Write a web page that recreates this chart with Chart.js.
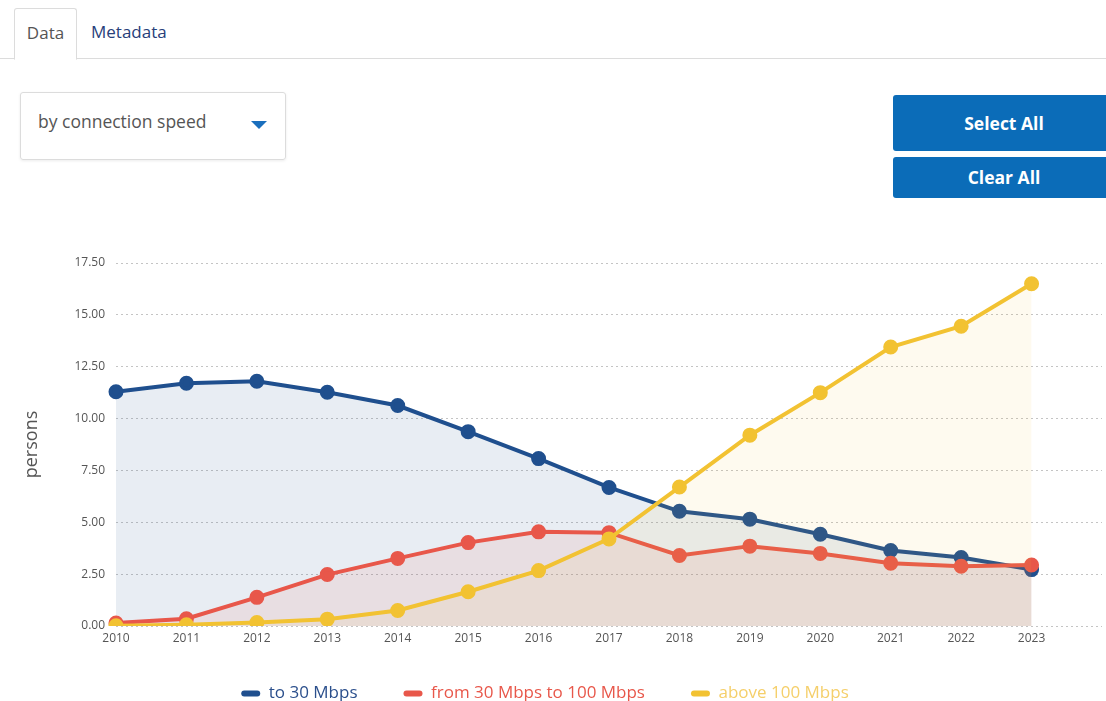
<!DOCTYPE html>
<html>
<head>
<meta charset="utf-8">
<script src="https://cdn.jsdelivr.net/npm/chart.js@4/dist/chart.umd.min.js"></script>
<style>
  html, body { margin: 0; padding: 0; background: #fff; overflow: hidden; }
  body { width: 1106px; height: 701px; position: relative; font-family: 'Open Sans', sans-serif; }
  .tabs { position: absolute; left: 0; top: 0; width: 1106px; height: 58px; border-bottom: 1px solid #dcdcdc; }
  .tab { position: absolute; top: 8px; height: 50px; line-height: 48px; font-size: 17px; }
  .tab.active { left: 14px; width: 61px; border: 1px solid #dcdcdc; border-bottom: 1px solid #fff; border-radius: 3px 3px 0 0; background: #fff; color: #555; text-align: center; }
  .tab.other { left: 91px; color: #27407a; }
  .select { position: absolute; left: 20px; top: 92px; width: 264px; height: 66px; border: 1px solid #dcdcdc; border-radius: 3px; box-shadow: 0 1px 3px rgba(0,0,0,0.08); }
  .select span { position: absolute; left: 17px; top: 16px; font-size: 17.5px; color: #555; }
  .select i { position: absolute; left: 230px; top: 28px; width: 0; height: 0; border-left: 8px solid transparent; border-right: 8px solid transparent; border-top: 8px solid #1a6fbd; }
  .btn { position: absolute; left: 893px; width: 222px; background: #0b6cb8; color: #fff; font-weight: 700; font-size: 17.5px; text-align: center; border-radius: 3px; }
  .btn.sel { top: 95px; height: 56px; line-height: 56px; }
  .btn.clr { top: 157px; height: 41px; line-height: 41px; }
  .wrap { position: absolute; left: 0; top: 240px; width: 1112px; height: 485px; }
</style>
</head>
<body>
<div class="tabs">
  <div class="tab active">Data</div>
  <div class="tab other">Metadata</div>
</div>
<div class="select"><span>by connection speed</span><i></i></div>
<div class="btn sel">Select All</div>
<div class="btn clr">Clear All</div>
<div class="wrap"><canvas id="chart"></canvas></div>
<script>
// years on the x axis; the trailing blank slot leaves room after 2023
const years = ['2010', '2011', '2012', '2013', '2014', '2015', '2016', '2017', '2018', '2019', '2020', '2021', '2022', '2023', ''];
const seriesNames = ['to 30 Mbps', 'from 30 Mbps to 100 Mbps', 'above 100 Mbps'];
const to30 = [11.29, 11.70, 11.80, 11.27, 10.63, 9.37, 8.07, 6.68, 5.53, 5.15, 4.42, 3.64, 3.30, 2.72];
const from30to100 = [0.14, 0.35, 1.38, 2.48, 3.26, 4.02, 4.54, 4.50, 3.40, 3.85, 3.50, 3.03, 2.88, 2.94];
const above100 = [0.01, 0.06, 0.17, 0.33, 0.75, 1.65, 2.67, 4.20, 6.70, 9.20, 11.25, 13.45, 14.45, 16.50];
const yTicks = [0, 2.5, 5, 7.5, 10, 12.5, 15, 17.5];

const lineColors = ['#1f4f8e', '#e8574a', '#f2c232'];
const fillColors = ['rgba(31,79,142,0.10)', 'rgba(232,87,74,0.10)', 'rgba(242,194,50,0.08)'];
const textColors = ['#2b4f8c', '#e8574a', '#f5cf6a'];

function series(i, data, order) {
  return {
    label: seriesNames[i],
    data: data,
    order: order,
    borderColor: lineColors[i],
    backgroundColor: fillColors[i],
    pointBackgroundColor: lineColors[i],
    pointBorderColor: lineColors[i],
    borderWidth: 4,
    pointRadius: 5.5,
    pointHoverRadius: 6,
    tension: 0,
    fill: 'origin'
  };
}

// pull the legend a little up and left, closer under the year labels
const legendNudge = {
  id: 'legendNudge',
  afterLayout(chart) {
    const lg = chart.legend;
    lg.top -= 9; lg.bottom -= 9;
    lg.left -= 11; lg.right -= 11;
  }
};

new Chart(document.getElementById('chart'), {
  type: 'line',
  data: {
    labels: years,
    // yellow sits on top, then red, then blue
    datasets: [series(0, to30, 2), series(1, from30to100, 1), series(2, above100, 0)]
  },
  plugins: [legendNudge],
  options: {
    responsive: true,
    maintainAspectRatio: false,
    animation: false,
    layout: { padding: { top: 23, right: 0, bottom: 4, left: 0 } },
    plugins: {
      tooltip: { enabled: false },
      legend: {
        position: 'bottom',
        reverse: true,
        labels: {
          boxWidth: 19,
          boxHeight: 6,
          padding: 46,
          useBorderRadius: true,
          borderRadius: 3,
          font: { family: 'Open Sans', size: 17 },
          generateLabels: chart => {
            const items = Chart.defaults.plugins.legend.labels.generateLabels(chart);
            items.forEach(it => {
              const i = it.datasetIndex;
              it.fillStyle = lineColors[i];
              it.strokeStyle = lineColors[i];
              it.lineWidth = 0;
              it.fontColor = textColors[i];
            });
            return items;
          }
        }
      }
    },
    scales: {
      x: {
        offset: false,
        afterFit: s => { s.height = 22; },
        grid: { display: false, drawTicks: false },
        border: { display: false },
        ticks: { color: '#555', font: { family: 'Open Sans', size: 12 }, padding: 5, maxRotation: 0, autoSkip: false }
      },
      y: {
        min: 0,
        max: 17.5,
        afterFit: s => { s.width = 116; },
        afterBuildTicks: s => { s.ticks = yTicks.map(v => ({ value: v })); },
        border: { display: false, dash: [2, 3] },
        grid: { color: '#c4c4c4', lineWidth: 1, drawTicks: false },
        ticks: {
          color: '#555',
          padding: 11,
          font: { family: 'Open Sans', size: 12 },
          callback: v => v.toFixed(2)
        },
        title: {
          display: true,
          text: 'persons',
          color: '#555',
          font: { family: 'Open Sans', size: 18 },
          padding: { top: 21, bottom: 0 }
        }
      }
    }
  }
});
</script>
</body>
</html>
